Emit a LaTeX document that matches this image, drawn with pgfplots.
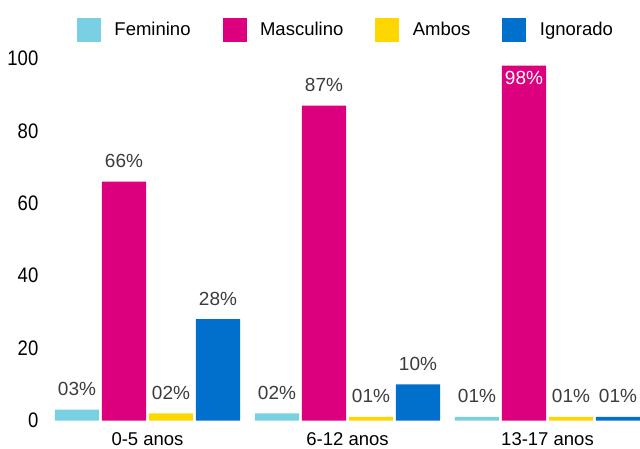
\documentclass[border=0pt]{standalone}
\usepackage{pgfplots}
\usepackage{pgfplotstable}
\pgfplotsset{compat=1.18}
\usepackage{fontspec}
\setmainfont{Liberation Sans}
\newfontfamily\narrowfont[FakeStretch=0.88]{Liberation Sans}

\definecolor{fem}{RGB}{120,208,226}
\definecolor{masc}{RGB}{220,0,127}
\definecolor{amb}{RGB}{255,215,0}
\definecolor{ign}{RGB}{0,112,204}
\definecolor{lbl}{RGB}{60,60,60}

% x: 0 = 0-5 anos, 1 = 6-12 anos, 2 = 13-17 anos
\pgfplotstableread{
x y lab
0 3 03
1 2 02
2 1 01
}\femtab
\pgfplotstableread{
x y lab
0 66 66
1 87 87
2 98 98
}\masctab
\pgfplotstableread{
x y lab
0 2 02
1 1 01
2 1 01
}\ambtab
\pgfplotstableread{
x y lab
0 28 28
1 10 10
2 1 01
}\igntab

% value label: above the bar, or inside it in white when the bar nearly reaches the top
\newcommand\barlabel{%
  \ifnum\pgfplotspointmeta>95\relax
    \raisebox{-32.6pt}[0pt][0pt]{\color{white}\pgfplotspointmeta\%}%
  \else
    \pgfplotspointmeta\%%
  \fi}

\begin{document}
\begin{tikzpicture}
\path[use as bounding box] (0,0) rectangle (640pt,448pt);
\begin{axis}[
  at={(55pt,27.5pt)}, anchor=south west,
  scale only axis, width=585pt, height=362pt,
  xmin=-0.4625, xmax=2.4625, ymin=0, ymax=100,
  axis line style={draw=none},
  tick style={draw=none},
  ybar=2.7pt, bar width=44.3pt,
  xtick={0,1,2},
  xticklabels={0-5 anos,6-12 anos,13-17 anos},
  ytick={0,20,...,100},
  /pgf/number format/assume math mode=true,
  xticklabel style={font=\fontsize{18.5}{18.5}\selectfont, anchor=north, inner sep=0pt, yshift=-8pt},
  yticklabel style={font=\narrowfont\fontsize{21}{21}\selectfont, anchor=east, inner sep=0pt, xshift=-16.5pt},
  point meta=explicit symbolic,
  nodes near coords={\barlabel},
  every node near coord/.append style={font=\fontsize{19}{19}\selectfont, text=lbl, anchor=base, inner sep=0pt, yshift=14pt},
  legend columns=4,
  legend image code/.code={\fill[#1] (0pt,-12pt) rectangle (24pt,12pt);},
  legend style={draw=none, fill=none, inner sep=0pt, outer sep=0pt,
    at={(axis description cs:0,1)}, anchor=north west, xshift=22pt, yshift=40.5pt,
    font=\fontsize{18.5}{18.5}\selectfont,
    nodes={inner sep=0pt},
    /tikz/every odd column/.append style={column sep=13.5pt},
    /tikz/every even column/.append style={column sep=32pt}},
]
\addplot[fill=fem, draw=none] table[x=x, y=y, meta=lab] {\femtab};
\addlegendentry{Feminino}
\addplot[fill=masc, draw=none] table[x=x, y=y, meta=lab] {\masctab};
\addlegendentry{Masculino}
\addplot[fill=amb, draw=none] table[x=x, y=y, meta=lab] {\ambtab};
\addlegendentry{Ambos}
\addplot[fill=ign, draw=none] table[x=x, y=y, meta=lab] {\igntab};
\addlegendentry{Ignorado}
\end{axis}
\end{tikzpicture}
\end{document}
